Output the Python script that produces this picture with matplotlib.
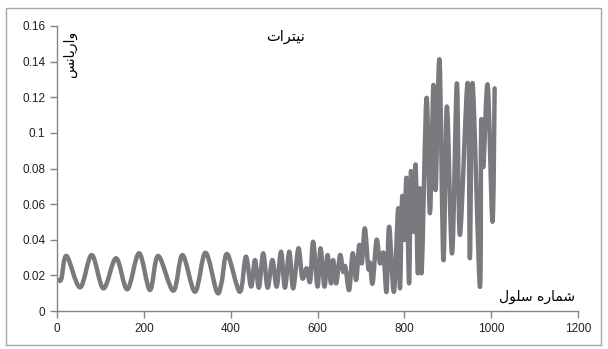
import matplotlib
matplotlib.use("Agg")
import matplotlib.pyplot as plt
from matplotlib.patches import Rectangle, PathPatch
from matplotlib.path import Path

# Data (cell number, variance)
cell = [3, 10, 22, 53, 80, 107, 136, 162, 189, 214, 233, 268, 289, 318, 342, 368, 379, 392,
        421, 435, 447, 456, 465, 475, 485, 496, 506, 516, 525, 535, 544, 556, 565, 575, 583,
        590, 600, 607, 616, 623, 631, 636, 643, 652, 659, 664, 673, 681, 689, 696, 702, 709,
        717, 721, 727, 736, 744, 752, 759, 765, 776, 786, 790, 795, 800, 805, 811, 815, 821,
        826, 831, 836, 840, 851, 859, 867, 872, 881, 890, 898, 910, 921, 928, 946, 951, 957,
        974, 977, 982, 992, 1003, 1008]
variance = [0.0174, 0.018, 0.0309, 0.0133, 0.0314, 0.0127, 0.0296, 0.0122, 0.0324, 0.0118,
            0.0309, 0.0114, 0.0314, 0.0108, 0.0327, 0.0108, 0.0159, 0.032,
            0.0108, 0.0305, 0.0137, 0.0286, 0.0131, 0.0324, 0.0131, 0.0286, 0.0137, 0.0333,
            0.0131, 0.0333, 0.0127, 0.0352, 0.0184, 0.024, 0.0165,
            0.0389, 0.0137, 0.0352, 0.0137, 0.0314, 0.0155, 0.0286, 0.0155, 0.0314, 0.022,
            0.025, 0.0118, 0.0324, 0.0174, 0.037, 0.0268, 0.0464,
            0.024, 0.027, 0.0155, 0.0399, 0.0268, 0.0324, 0.0108, 0.0473, 0.0108, 0.0577,
            0.0127, 0.0642, 0.0399, 0.0745, 0.0155, 0.0782, 0.0445,
            0.082, 0.0212, 0.0689, 0.022, 0.1194, 0.0549, 0.1269, 0.0679, 0.1409, 0.0286,
            0.1148, 0.0324, 0.1278, 0.0427, 0.128, 0.0296, 0.128,
            0.0137, 0.106, 0.081, 0.1269, 0.0501, 0.125]

xticks = [0, 200, 400, 600, 800, 1000, 1200]
yticks = [0, 0.02, 0.04, 0.06, 0.08, 0.1, 0.12, 0.14, 0.16]
ytick_labels = ["0", "0.02", "0.04", "0.06", "0.08", "0.1", "0.12", "0.14", "0.16"]

# Persian texts (pre-shaped presentation forms, visual order)
title_text = "\uFE95\uFE8D\uFEAE\uFE98\uFEF4\uFEE7"            # نیترات
ylabel_text = "\uFEB2\uFEE7\uFE8E\uFEF3\uFEAD\uFE8D\uFEED"     # واریانس
xlabel_text = "\uFEDD\uFEEE\uFEE0\uFEB3 \uFEE9\uFEAD\uFE8E\uFEE4\uFEB7"  # شماره سلول

fig = plt.figure(figsize=(6.08, 3.49), dpi=100)
fig.patches.append(Rectangle((6 / 608, 1 - 345 / 349), 595 / 608, 337 / 349,
                             transform=fig.transFigure, fill=False,
                             edgecolor="#a6a6a6", linewidth=1))
ax = fig.add_axes([57 / 608, 38 / 349, 521 / 608, 285 / 349])
ax.set_xlim(0, 1200)
ax.set_ylim(0, 0.16)

# Smoothed line (like a spreadsheet "smoothed line"): cubic Bezier path through the data
pts = list(zip(cell, variance))
n = len(pts)
verts = [pts[0]]
codes = [Path.MOVETO]
for i in range(n - 1):
    p0 = pts[i - 1] if i > 0 else pts[i]
    p1 = pts[i]
    p2 = pts[i + 1]
    p3 = pts[i + 2] if i + 2 < n else pts[i + 1]
    c1 = (p1[0] + (p2[0] - p0[0]) / 6, p1[1] + (p2[1] - p0[1]) / 6)
    c2 = (p2[0] - (p3[0] - p1[0]) / 6, p2[1] - (p3[1] - p1[1]) / 6)
    verts += [c1, c2, p2]
    codes += [Path.CURVE4] * 3
ax.add_patch(PathPatch(Path(verts, codes), facecolor="none", edgecolor="#7a7a7e",
                       linewidth=3.2, joinstyle="round", capstyle="round"))

ax.set_xticks(xticks)
ax.set_xticklabels([str(v) for v in xticks])
ax.set_yticks(yticks)
ax.set_yticklabels(ytick_labels)

for s in ["top", "right"]:
    ax.spines[s].set_visible(False)
for s in ["left", "bottom"]:
    ax.spines[s].set_color("#868686")
    ax.spines[s].set_linewidth(1)
ax.tick_params(direction="out", length=5, width=1, color="#868686",
               labelsize=8.5, labelcolor="#222222")
for lab in ax.get_xticklabels() + ax.get_yticklabels():
    lab.set_family("Liberation Sans")

fig.text(286 / 608, 1 - 36 / 349, title_text, ha="center", va="center",
         fontsize=10.5, family="DejaVu Sans", color="black")
fig.text(70 / 608, 1 - 54 / 349, ylabel_text, ha="center", va="center",
         rotation=90, fontsize=10, family="DejaVu Sans", color="black")
fig.text(537 / 608, 1 - 297 / 349, xlabel_text, ha="center", va="center",
         fontsize=10, family="DejaVu Sans", color="black")

fig.savefig("out.png", dpi=100)
